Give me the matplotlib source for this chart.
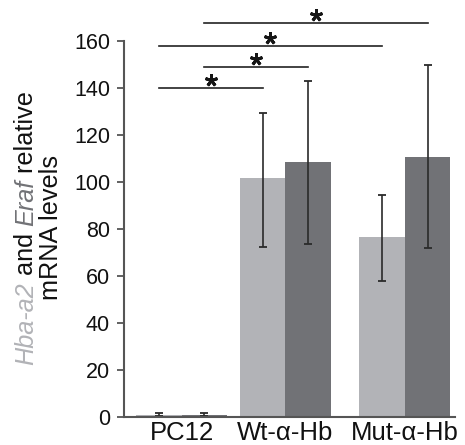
import numpy as np
import matplotlib.pyplot as plt

plt.rcParams['font.family'] = ['Liberation Sans', 'DejaVu Sans']

groups = ["PC12", "Wt-α-Hb", "Mut-α-Hb"]
hba_mean = [1.0, 101.5, 76.5]
hba_low = [0.6, 72.5, 58.0]
hba_high = [1.5, 129.5, 94.5]
eraf_mean = [1.0, 108.5, 110.5]
eraf_low = [0.6, 73.5, 72.0]
eraf_high = [1.5, 143.0, 150.0]

# significance brackets: (bar index from, bar index to, height)
sig_from = [0, 1, 0, 1]
sig_to = [2, 3, 4, 5]
sig_y = [140, 149, 158, 167.5]

light = "#b2b3b7"
dark = "#717276"

fig = plt.figure(figsize=(4.65, 4.45), dpi=100)
ax = fig.add_axes([124 / 465, 1 - 417 / 445, (455 - 124) / 465, (417 - 41) / 445])

group_x = np.array([0.0, 2.27, 4.88])
w = 1.0
x_light = group_x - w / 2
x_dark = group_x + w / 2

ax.bar(x_light, hba_mean, width=w, color=light, zorder=1)
ax.bar(x_dark, eraf_mean, width=w, color=dark, zorder=1)

err_l = [np.array(hba_mean) - np.array(hba_low), np.array(hba_high) - np.array(hba_mean)]
err_d = [np.array(eraf_mean) - np.array(eraf_low), np.array(eraf_high) - np.array(eraf_mean)]
ax.errorbar(x_light, hba_mean, yerr=err_l, fmt="none", ecolor="#2a2a2a", elinewidth=1.2,
            capsize=3, capthick=1.3, zorder=2)
ax.errorbar(x_dark, eraf_mean, yerr=err_d, fmt="none", ecolor="#2a2a2a", elinewidth=1.2,
            capsize=3, capthick=1.3, zorder=2)

centers = np.ravel(np.column_stack([x_light, x_dark]))
for a, b, y in zip(sig_from, sig_to, sig_y):
    ax.plot([centers[a], centers[b]], [y, y], color="#222222", lw=1.2, clip_on=False)
    ax.plot([(centers[a] + centers[b]) / 2], [y + 3.4], marker=(5, 2, 0), ms=9,
            mew=2.1, color="#151515", clip_on=False)

ax.set_xlim(-1.26, 5.98)
ax.set_ylim(0, 160)
ax.set_yticks(np.arange(0, 161, 20))
ax.set_xticks(group_x)
ax.set_xticklabels(groups)
ax.tick_params(axis="x", length=0, labelsize=18.5, pad=3, colors="#111111")
ax.tick_params(axis="y", length=5, width=1.3, labelsize=15.5, color="#555555",
               labelcolor="#111111", pad=5)
for s in ["top", "right"]:
    ax.spines[s].set_visible(False)
ax.spines["left"].set_color("#555555")
ax.spines["bottom"].set_color("#555555")
ax.spines["left"].set_linewidth(1.5)
ax.spines["bottom"].set_linewidth(1.5)

# two-line y label with coloured gene names
fig.canvas.draw()
renderer = fig.canvas.get_renderer()
pieces = [("Hba-a2", light, "italic"), (" and ", "#111111", "normal"),
          ("Eraf", dark, "italic"), (" relative", "#111111", "normal")]
fs = 18.2
objs = []
for txt, col, sty in pieces:
    t = fig.text(0, 0, txt, color=col, style=sty, fontsize=fs, rotation=90,
                 rotation_mode="anchor", ha="left", va="baseline")
    objs.append(t)
lens = [t.get_window_extent(renderer).height for t in objs]
total = sum(lens)
yc = 445 * 0.488
x1 = 33
ypos = yc - total / 2
for t, L in zip(objs, lens):
    t.set_position((x1 / 465, ypos / 445))
    ypos += L
fig.text(58 / 465, yc / 445, "mRNA levels", color="#111111", fontsize=fs, rotation=90,
         rotation_mode="anchor", ha="center", va="baseline")

fig.savefig("out.png", dpi=100)
